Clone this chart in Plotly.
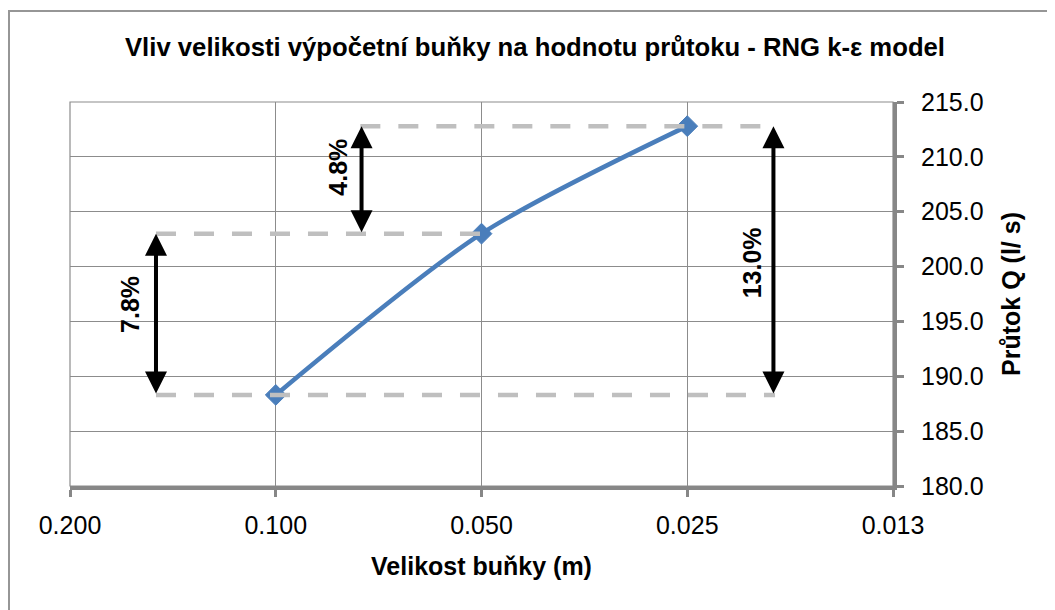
import math
import plotly.graph_objects as go

# Data
cell_size = [0.100, 0.050, 0.025]          # m
flow_q = [188.3, 203.0, 212.8]             # l/s
x_tickvals = [0.2, 0.1, 0.05, 0.025, 0.0125]
x_ticktext = ["0.200", "0.100", "0.050", "0.025", "0.013"]
y_tickvals = [180, 185, 190, 195, 200, 205, 210, 215]
pct_labels = ["7.8%", "4.8%", "13.0%"]

FONT = "Liberation Sans, Arial, sans-serif"
GRID = "#8C8C8C"
AXIS = "#878787"
DASH = "#BFBFBF"
BLUE = "#4A7EBB"

W, H = 1055, 610
L, T = 62, 94
pw, ph = 823, 384
R = W - L - pw
B = H - T - ph

fig = go.Figure()

# main series
fig.add_trace(go.Scatter(x=cell_size, y=flow_q, mode="lines+markers",
                         line=dict(color=BLUE, width=4.5, shape="spline", smoothing=0.8),
                         marker=dict(symbol="diamond", size=16, color=BLUE,
                                     line=dict(color=BLUE, width=1)),
                         showlegend=False))

# dashed reference lines (drawn over the series, as in the original)
x_left, x_mid_l, x_right = 0.1497, 0.0752, 0.0186
dash_sets = [
    ([x_left, x_right], [flow_q[0], flow_q[0]]),
    ([x_left, cell_size[1]], [flow_q[1], flow_q[1]]),
    ([x_mid_l, x_right], [flow_q[2], flow_q[2]]),
]
for xs, ys in dash_sets:
    fig.add_trace(go.Scatter(x=xs, y=ys, mode="lines",
                             line=dict(color=DASH, width=4.5, dash="20px,18px"),
                             hoverinfo="skip", showlegend=False))

# arrows with percentage labels
arrows = [
    (0.1497, flow_q[0], flow_q[1], 0.1634, 196.5, pct_labels[0]),
    (0.0749, flow_q[1], flow_q[2], 0.0811, 209.1, pct_labels[1]),
    (0.0187, flow_q[0], flow_q[2], 0.0201, 200.3, pct_labels[2]),
]
for xa, y0, y1, xl, ly, txt in arrows:
    lx = math.log10(xa)
    fig.add_annotation(x=lx, y=y1, ax=lx, ay=y0, xref="x", yref="y",
                       axref="x", ayref="y", text="", showarrow=True,
                       arrowhead=2, arrowside="end+start", arrowwidth=4,
                       arrowsize=1.1, arrowcolor="black")
    fig.add_annotation(x=math.log10(xl), y=ly, xref="x", yref="y",
                       text="<b>" + txt + "</b>",
                       showarrow=False, textangle=-90,
                       font=dict(family=FONT, size=25, color="black"))

# plot area frame (thin) and outer chart border
fig.add_shape(type="rect", xref="paper", yref="paper", x0=0, x1=1, y0=0, y1=1,
              line=dict(color=GRID, width=1.2), layer="below")
fig.add_shape(type="rect", xref="paper", yref="paper",
              x0=(1 - L) / pw, x1=(W + 20 - L) / pw,
              y0=(T + ph - (H + 20)) / ph, y1=(T + ph - 3) / ph,
              line=dict(color="#969696", width=2), layer="below")

fig.update_layout(
    width=W, height=H,
    margin=dict(l=L, r=R, t=T, b=B),
    paper_bgcolor="white", plot_bgcolor="white",
    font=dict(family=FONT, size=25, color="black"),
    title=dict(text="<b>Vliv velikosti výpočetní buňky na hodnotu průtoku - RNG k-ε model</b>",
               x=527 / W, xref="container", xanchor="center",
               y=1 - 39 / H, yref="container", yanchor="middle",
               font=dict(family=FONT, size=25.7, color="black")),
    xaxis=dict(type="log",
               range=[math.log10(0.2), math.log10(0.0125)],
               tickvals=x_tickvals, ticktext=x_ticktext,
               showgrid=True, gridcolor=GRID, gridwidth=1.2,
               showline=True, linecolor=AXIS, linewidth=4,
               ticks="outside", ticklen=7, tickwidth=3, tickcolor=AXIS,
               ticklabelstandoff=7,
               tickfont=dict(family=FONT, size=25),
               zeroline=False,
               title=dict(text="<b>Velikost buňky (m)</b>", standoff=20,
                          font=dict(family=FONT, size=25))),
    yaxis=dict(side="right", range=[180, 215], tickvals=y_tickvals,
               tickformat=".1f",
               showgrid=True, gridcolor=GRID, gridwidth=1.2,
               showline=True, linecolor=AXIS, linewidth=4,
               ticks="outside", ticklen=7, tickwidth=3, tickcolor=AXIS,
               ticklabelstandoff=12,
               tickfont=dict(family=FONT, size=25),
               zeroline=False,
               title=dict(text="<b>Průtok Q (l/ s)</b>", standoff=21,
                          font=dict(family=FONT, size=25))),
    showlegend=False,
)

fig.write_html("out.html")
